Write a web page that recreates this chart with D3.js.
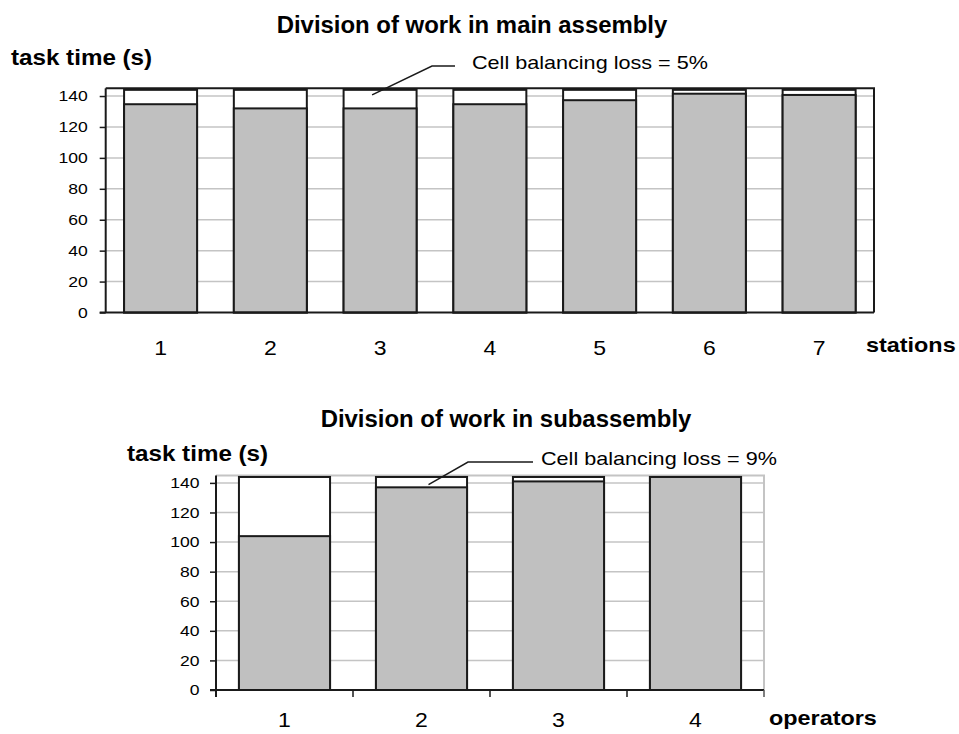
<!DOCTYPE html>
<meta charset="utf-8">
<style>
    body {
        margin: 0;
        background: #fff;
        font-family: "Liberation Sans", Arial, sans-serif;
    }
    text {
        fill: #000;
    }
    .title, .unit, .axis-name {
        font-weight: bold;
    }
    .grid line {
        stroke: #c4c4c4;
        stroke-width: 1.5;
    }
    rect.slack {
        fill: #fff;
        stroke: #1a1a1a;
        stroke-width: 2;
    }
    rect.work {
        fill: #c0c0c0;
        stroke: #1a1a1a;
        stroke-width: 2;
    }
</style>
<body>
<script src="https://d3js.org/d3.v7.min.js"></script>
<script>
    // main assembly
    var stations = ["1", "2", "3", "4", "5", "6", "7"];
    var mainWork = [134.7, 132, 132, 134.7, 137.3, 141.5, 140.7];
    var mainLoss = "Cell balancing loss = 5%";

    // subassembly
    var operators = ["1", "2", "3", "4"];
    var subWork = [104, 137, 141, 144];
    var subLoss = "Cell balancing loss = 9%";

    var cycleTime = 144;
    var yMax = 145;
    var yTicks = [0, 20, 40, 60, 80, 100, 120, 140];

    var svg = d3.select("body").append("svg")
        .attr("width", 959)
        .attr("height", 734);

    drawChart({
        title: "Division of work in main assembly",
        titleX: 472, titleY: 33,
        unitX: 11, unitY: 65,
        cats: stations, work: mainWork,
        left: 105.7, right: 874, top: 88.3, bottom: 312.5,
        frame: "#1a1a1a", xTicks: false,
        tickPad: 12, labelY: 355,
        axisName: "stations", axisNameX: 866, axisNameY: 352,
        note: mainLoss, noteBar: 2, noteDx: -8, noteVal: 140.7,
        elbow: [432, 66], noteEnd: 455, noteX: 472, noteY: 69
    });

    drawChart({
        title: "Division of work in subassembly",
        titleX: 506, titleY: 427,
        unitX: 127, unitY: 461,
        cats: operators, work: subWork,
        left: 216, right: 764, top: 475.5, bottom: 690,
        frame: "#c4c4c4", xTicks: true,
        tickPad: 10.5, labelY: 727,
        axisName: "operators", axisNameX: 769, axisNameY: 725,
        note: subLoss, noteBar: 1, noteDx: 7, noteVal: 138.8,
        elbow: [468, 462], noteEnd: 533, noteX: 541, noteY: 465
    });

    // the source lettering is a bit wider than Arial, so stretch it sideways
    function stretch(sel, sx) {
        sel.each(function() {
            var t = d3.select(this);
            var tx = +t.attr("x") || 0, ty = +t.attr("y") || 0;
            t.attr("x", 0).attr("y", 0)
                .attr("transform", "translate(" + tx + "," + ty + ") scale(" + sx + ",1)");
        });
    }

    function drawChart(c) {
        var x = d3.scaleBand()
            .domain(c.cats)
            .range([c.left, c.right])
            .paddingInner(0.335)
            .paddingOuter(0.1675);
        var y = d3.scaleLinear()
            .domain([0, yMax])
            .range([c.bottom, c.top]);
        var g = svg.append("g");

        g.append("text")
            .attr("class", "title")
            .attr("x", c.titleX)
            .attr("y", c.titleY)
            .attr("text-anchor", "middle")
            .style("font-size", "23px")
            .text(c.title)
            .call(stretch, 1.04);
        g.append("text")
            .attr("class", "unit")
            .attr("x", c.unitX)
            .attr("y", c.unitY)
            .style("font-size", "22px")
            .text("task time (s)")
            .call(stretch, 1.1);

        // gridlines
        g.append("g")
            .attr("class", "grid")
            .selectAll("line")
            .data(yTicks.slice(1))
            .join("line")
            .attr("x1", c.left)
            .attr("x2", c.right)
            .attr("y1", function(d) { return y(d); })
            .attr("y2", function(d) { return y(d); });

        // frame top and right
        g.append("path")
            .attr("d", "M" + c.left + "," + y(yMax) + "H" + c.right + "V" + y(0))
            .attr("fill", "none")
            .attr("stroke", c.frame)
            .attr("stroke-width", 2);

        // bars: full cycle time in white, work content in grey
        var bars = g.append("g").selectAll("g")
            .data(c.work)
            .join("g");
        bars.append("rect")
            .attr("class", "slack")
            .attr("x", function(d, i) { return x(c.cats[i]); })
            .attr("width", x.bandwidth())
            .attr("y", y(cycleTime))
            .attr("height", y(0) - y(cycleTime));
        bars.append("rect")
            .attr("class", "work")
            .attr("x", function(d, i) { return x(c.cats[i]); })
            .attr("width", x.bandwidth())
            .attr("y", function(d) { return y(d); })
            .attr("height", function(d) { return y(0) - y(d); });

        // y axis
        var yAxis = d3.axisLeft(y)
            .tickValues(yTicks)
            .tickSize(6)
            .tickPadding(c.tickPad);
        var ya = g.append("g")
            .attr("transform", "translate(" + c.left + ",0)")
            .call(yAxis);
        ya.select(".domain")
            .attr("d", "M0," + y(yMax) + "V" + (y(0) + (c.xTicks ? 7 : 0)))
            .attr("stroke", "#1a1a1a")
            .attr("stroke-width", 2);
        ya.selectAll(".tick line").attr("stroke", "#1a1a1a").attr("stroke-width", 1.5);
        ya.selectAll(".tick text")
            .style("font-family", "Liberation Sans, Arial, sans-serif")
            .style("font-size", "15px")
            .attr("fill", "#000")
            .call(stretch, 1.17);

        // x axis
        g.append("line")
            .attr("x1", c.left - 6)
            .attr("x2", c.right)
            .attr("y1", y(0))
            .attr("y2", y(0))
            .attr("stroke", "#1a1a1a")
            .attr("stroke-width", 2);
        if (c.xTicks) {
            var step = x.step();
            g.append("g").selectAll("line")
                .data(d3.range(1, c.cats.length + 1))
                .join("line")
                .attr("x1", function(k) { return c.left + k * step; })
                .attr("x2", function(k) { return c.left + k * step; })
                .attr("y1", y(0))
                .attr("y2", y(0) + 7)
                .attr("stroke", k => k === c.cats.length ? "#555" : "#1a1a1a")
                .attr("stroke-width", 1.5);
        }
        g.append("g").selectAll("text")
            .data(c.cats)
            .join("text")
            .attr("x", function(d) { return x(d) + x.bandwidth() / 2; })
            .attr("y", c.labelY)
            .attr("text-anchor", "middle")
            .style("font-size", "20px")
            .text(function(d) { return d; })
            .call(stretch, 1.15);
        g.append("text")
            .attr("class", "axis-name")
            .attr("x", c.axisNameX)
            .attr("y", c.axisNameY)
            .style("font-size", "20px")
            .text(c.axisName)
            .call(stretch, 1.17);

        // balancing loss callout
        var bx = x(c.cats[c.noteBar]) + x.bandwidth() / 2 + c.noteDx;
        g.append("path")
            .attr("d", "M" + bx + "," + y(c.noteVal) + "L" + c.elbow[0] + "," + c.elbow[1] + "H" + c.noteEnd)
            .attr("fill", "none")
            .attr("stroke", "#1a1a1a")
            .attr("stroke-width", 1.5);
        g.append("text")
            .attr("x", c.noteX)
            .attr("y", c.noteY)
            .style("font-size", "18px")
            .text(c.note)
            .call(stretch, 1.2);
    }
</script>
</body>
